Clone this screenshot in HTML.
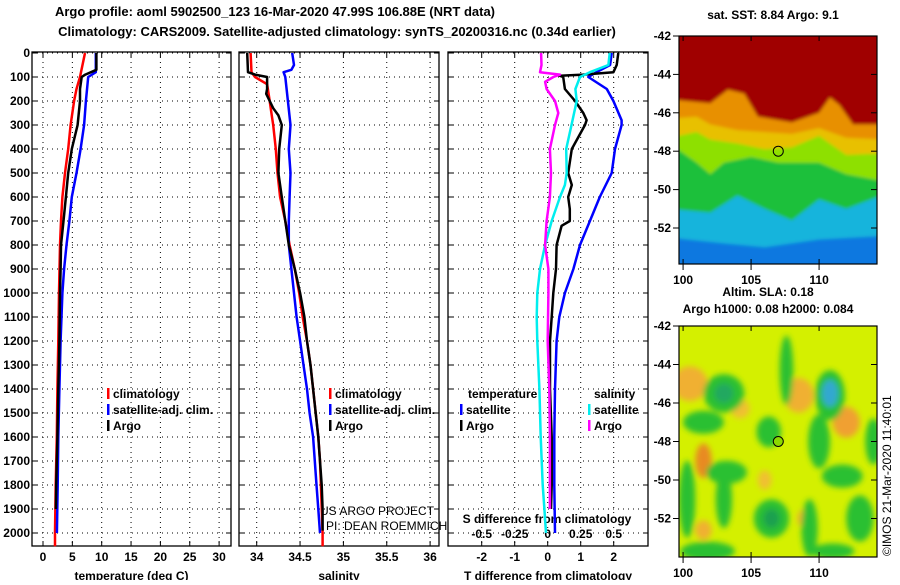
<!DOCTYPE html>
<html><head><meta charset="utf-8"><style>
body{margin:0;background:#fff}
svg text{font-family:"Liberation Sans",sans-serif;font-weight:bold;font-size:12px;fill:#000}
</style></head><body>
<svg id="s" width="900" height="580" xmlns="http://www.w3.org/2000/svg">
<defs>
<filter id="bl" x="-20%" y="-20%" width="140%" height="140%"><feGaussianBlur stdDeviation="3"/></filter>
<filter id="bl2" x="-20%" y="-20%" width="140%" height="140%"><feGaussianBlur stdDeviation="1.5"/></filter>
<clipPath id="c1"><rect x="679" y="36" width="198" height="228"/></clipPath>
<clipPath id="c2"><rect x="679" y="326" width="198" height="231"/></clipPath>
</defs>
<text x="275" y="16" text-anchor="middle" style="font-size:13px">Argo profile: aoml 5902500_123 16-Mar-2020 47.99S 106.88E (NRT data)</text>
<text x="337" y="36" text-anchor="middle" style="font-size:13px">Climatology: CARS2009. Satellite-adjusted climatology: synTS_20200316.nc (0.34d earlier)</text>
<text x="773" y="19" text-anchor="middle">sat. SST: 8.84 Argo: 9.1</text>
<text x="768" y="296" text-anchor="middle">Altim. SLA: 0.18</text>
<text x="768" y="313" text-anchor="middle">Argo h1000: 0.08 h2000: 0.084</text>
<text x="320" y="515" style="font-weight:normal;font-size:12px">US ARGO PROJECT</text>
<text x="326" y="530" style="font-weight:normal;font-size:12px">PI: DEAN ROEMMICH</text>
<text transform="translate(891,556) rotate(-90)" style="font-weight:normal;font-size:12px">©IMOS 21-Mar-2020 11:40:01</text>
<g id="g"></g>
</svg>
<script>
// ---- data ----
const tClimDepth=[0,100,150,200,300,400,500,600,700,800,1000,1200,1400,1600,1800,2000,2055];
const tClim=[7.15,6.3,5.7,5.3,4.7,4.3,3.75,3.3,3.07,2.9,2.72,2.6,2.45,2.35,2.16,2.05,2.05];
const tSatDepth=[0,80,100,200,300,400,500,600,700,800,900,1000,1200,1400,1600,1800,2000];
const tSat=[9.0,9.0,7.7,7.3,7.0,6.4,5.7,4.9,4.5,4.0,3.6,3.3,3.0,2.8,2.6,2.5,2.36];
const tArgoDepth=[0,70,90,100,150,200,300,400,500,600,700,800,900,1000,1200,1400,1600,1800,1900];
const tArgo=[9.1,9.1,7.2,6.6,6.3,6.3,5.9,4.9,4.3,3.9,3.5,3.07,3.0,2.9,2.8,2.6,2.45,2.25,2.2];
const sClimDepth=[0,80,100,130,200,250,300,400,500,600,700,800,900,1000,1100,1200,1300,1400,1500,1600,1700,1800,2000,2055];
const sClim=[33.93,33.94,33.98,34.12,34.15,34.17,34.19,34.22,34.24,34.27,34.33,34.38,34.44,34.49,34.53,34.58,34.62,34.65,34.68,34.71,34.73,34.74,34.76,34.76];
const sArgoDepth=[0,80,90,100,150,170,200,230,260,300,400,500,550,600,700,800,900,1000,1100,1200,1300,1400,1500,1600,1700,1800,1900,1990];
const sArgo=[33.89,33.9,33.98,34.12,34.12,34.11,34.15,34.19,34.25,34.29,34.26,34.25,34.27,34.29,34.33,34.37,34.44,34.5,34.55,34.58,34.62,34.65,34.68,34.71,34.73,34.75,34.76,34.76];
const sSatDepth=[0,50,70,80,100,200,300,400,500,600,700,800,900,1000,1100,1200,1300,1400,1500,1600,1700,1800,1900,2000];
const sSat=[34.41,34.43,34.4,34.31,34.33,34.36,34.39,34.37,34.39,34.38,34.37,34.37,34.4,34.43,34.46,34.5,34.54,34.58,34.61,34.65,34.67,34.69,34.71,34.73];
const dTSatDepth=[0,50,80,100,150,200,280,300,400,500,600,700,800,900,1000,1100,1200,1400,1600,1800,2000];
const dTSat=[1.94,1.89,1.48,1.23,1.79,1.99,2.24,2.24,2.04,1.94,1.58,1.28,0.98,0.78,0.52,0.35,0.27,0.22,0.2,0.2,0.22];
const dTArgoDepth=[0,50,80,90,95,100,150,200,250,280,300,350,400,500,550,600,650,700,720,800,900,1000,1100,1200,1400,1600,1800,1900];
const dTArgo=[2.14,2.09,1.99,1.08,0.37,0.47,0.52,0.83,1.08,1.18,1.13,0.93,0.73,0.62,0.73,0.62,0.67,0.67,0.42,0.27,0.25,0.17,0.12,0.07,0.07,0.12,0.12,0.1];
const dSSatDepth=[0,50,80,100,150,200,300,400,500,550,600,700,800,900,1000,1100,1200,1400,1600,1800,1900,2000];
const dSSat=[0.47,0.46,0.32,0.245,0.21,0.22,0.18,0.14,0.144,0.13,0.093,0.03,-0.02,-0.058,-0.079,-0.083,-0.079,-0.063,-0.053,-0.038,-0.025,-0.013];
const dSArgoDepth=[0,50,80,90,100,120,150,200,250,300,400,500,600,700,800,900,1000,1200,1400,1600,1800,1900];
const dSArgo=[-0.05,-0.047,-0.058,0.093,0.043,-0.02,-0.008,0.055,0.08,0.055,0.017,0.025,0.017,-0.008,-0.02,0.005,0.005,0,0.012,0.017,0.017,0.017];
const depthTicks=[0,100,200,300,400,500,600,700,800,900,1000,1100,1200,1300,1400,1500,1600,1700,1800,1900,2000];
const tTicks=[0,5,10,15,20,25,30];
const sTicks=[34,34.5,35,35.5,36];
const sTickLabels=["34","34.5","35","35.5","36"];
const dTTicks=[-2,-1,0,1,2];
const dSTicks=[-0.5,-0.25,0,0.25,0.5];
const dSTickLabels=["-0.5","-0.25","0","0.25","0.5"];
const latTicks=[-42,-44,-46,-48,-50,-52];
const lonTicks=[100,105,110];

// ---- scales ----
const yD=d=>53+d*0.24;
const P1={l:32,r:231},P2={l:239,r:439},P3={l:448,r:648},TOP=52,BOT=546;
const xT=t=>43+t*5.87;
const xS=s=>256.7+(s-34)*86.7;
const xDT=t=>547.7+t*33;
const xDS=s=>547.7+s*132;
const NS='http://www.w3.org/2000/svg';
const G=document.getElementById('g');
function el(tag,attrs,parent){const e=document.createElementNS(NS,tag);for(const k in attrs)e.setAttribute(k,attrs[k]);(parent||G).appendChild(e);return e;}
function txt(x,y,s,anchor,parent){const e=el('text',{x:x,y:y,'text-anchor':anchor||'start'},parent);e.textContent=s;return e;}

function panel(P,name,xticks,xlabels,xf,title){
  const g=el('g',{});
  
  
  depthTicks.forEach(d=>{el('line',{x1:P.l,x2:P.r,y1:yD(d),y2:yD(d),stroke:'#000','stroke-dasharray':'1,4','stroke-width':1},g);
    el('line',{x1:P.l,x2:P.l+5,y1:yD(d),y2:yD(d),stroke:'#000'},g);el('line',{x1:P.r-5,x2:P.r,y1:yD(d),y2:yD(d),stroke:'#000'},g);});
  xticks.forEach((v,i)=>{const x=xf(v);el('line',{x1:x,x2:x,y1:TOP,y2:BOT,stroke:'#000','stroke-dasharray':'1,4'},g);
    el('line',{x1:x,x2:x,y1:BOT-5,y2:BOT,stroke:'#000'},g);el('line',{x1:x,x2:x,y1:TOP,y2:TOP+5,stroke:'#000'},g);
    const t=txt(x,561,xlabels[i],'middle',g);});
  const tt=txt((P.l+P.r)/2,580,title,'middle',g);
  
  
  el('rect',{x:P.l,y:TOP,width:P.r-P.l,height:BOT-TOP,fill:'none',stroke:'#000','stroke-width':1.3},g);
  return g;
}
const g1=panel(P1,'temperature-panel',tTicks,tTicks.map(String),xT,'temperature (deg C)');
const g2=panel(P2,'salinity-panel',sTicks,sTickLabels,xS,'salinity');
const g3=panel(P3,'difference-panel',dTTicks,dTTicks.map(String),xDT,'T difference from climatology');
depthTicks.forEach(d=>{const t=txt(30,yD(d)+4,String(d),'end');
  
  });
dSTicks.forEach((v,i)=>{const t=txt(xDS(v),538,dSTickLabels[i],'middle');
  
  });
const sdt=txt(547,523,'S difference from climatology','middle');



function line(depths,vals,xf,color,name,w){
  const pts=depths.map((d,i)=>xf(vals[i]).toFixed(1)+','+yD(d).toFixed(1)).join(' ');
  const p=el('polyline',{points:pts,fill:'none',stroke:color,'stroke-width':w||2.5,'stroke-linejoin':'round'});
  
  
}
line(tClimDepth,tClim,xT,'#f00','temp-climatology-line');
line(tSatDepth,tSat,xT,'#00f','temp-satellite-line');
line(tArgoDepth,tArgo,xT,'#000','temp-argo-line');
line(sClimDepth,sClim,xS,'#f00','sal-climatology-line');
line(sSatDepth,sSat,xS,'#00f','sal-satellite-line');
line(sArgoDepth,sArgo,xS,'#000','sal-argo-line');
line(dTSatDepth,dTSat,xDT,'#00f','tdiff-satellite-line');
line(dTArgoDepth,dTArgo,xDT,'#000','tdiff-argo-line');
line(dSSatDepth,dSSat,xDS,'#0ee','sdiff-satellite-line');
line(dSArgoDepth,dSArgo,xDS,'#f0f','sdiff-argo-line');

function legend(x,y,color,label,name){
  const g=el('g',{});
  
  
  el('rect',{x:x,y:y-10,width:2.5,height:11,fill:color},g);
  txt(x+6,y,label,'start',g);
}
legend(107,398,'#f00','climatology','legend-climatology');
legend(107,414,'#00f','satellite-adj. clim.','legend-satellite-adj');
legend(107,430,'#000','Argo','legend-argo');
legend(329,398,'#f00','climatology','legend-sal-climatology');
legend(329,414,'#00f','satellite-adj. clim.','legend-sal-satellite');
legend(329,430,'#000','Argo','legend-sal-argo');
const lt=txt(468,398,'temperature');
const ls=txt(594,398,'salinity');
legend(460,414,'#00f','satellite','legend-tdiff-satellite');
legend(460,430,'#000','Argo','legend-tdiff-argo');
legend(588,414,'#0ee','satellite','legend-sdiff-satellite');
legend(588,430,'#f0f','Argo','legend-sdiff-argo');

// ---- maps ----
const mx=lon=>679+(lon-99.7)*13.6;
const my1=lat=>36+(-42-lat)*19.2;
const my2=lat=>326+(-42-lat)*19.25;
function mapFrame(top,h,my,name){
  const g=el('g',{});
  
  
  el('rect',{x:679,y:top,width:198,height:h,fill:'none',stroke:'#000','stroke-width':1.2},g);
  latTicks.forEach(l=>{const y=my(l);el('line',{x1:673,x2:679,y1:y,y2:y,stroke:'#000'},g);el('line',{x1:871,x2:877,y1:y,y2:y,stroke:'#000'},g);
    const t=txt(671,y+4,String(l),'end',g);});
  lonTicks.forEach(l=>{const x=mx(l);el('line',{x1:x,x2:x,y1:top,y2:top+5,stroke:'#000'},g);el('line',{x1:x,x2:x,y1:top+h-5,y2:top+h+6,stroke:'#000'},g);
    const t=txt(x,top+h+20,String(l),'middle',g);});
  const c=el('circle',{cx:mx(107),cy:my(-48),r:5,fill:'none',stroke:'#000','stroke-width':1},g);
  
  
}
const bands=[
 ['#0a78e0',[[99.7,-55],[114.3,-55]]],
 ['#14b4dc',[[99.7,-52.5],[103,-52.8],[106,-53],[110,-52.6],[114.3,-52.4]]],
 ['#1cc03a',[[99.7,-51],[102,-51.2],[104,-50.3],[106,-51],[108,-51.6],[110,-50.5],[112,-51],[114.3,-50.2]]],
 ['#8ee000',[[99.7,-47.6],[101,-48.6],[102,-49.2],[103,-48.6],[105,-48.3],[107,-48.6],[110,-48.6],[112,-49.2],[114.3,-49.6]]],
 ['#e8c000',[[99.7,-47.3],[101,-47],[102,-47.4],[104,-47.6],[106,-47.9],[108,-47.8],[110,-47.2],[112,-48.2],[114.3,-48.1]]],
 ['#e89000',[[99.7,-46.3],[101,-46.2],[102,-46.6],[104,-46.9],[106,-47],[108,-47.1],[110,-46.8],[112,-47.3],[114.3,-47.4]]],
 ['#a00000',[[99.7,-45.3],[102,-45.5],[103.3,-44.8],[104.5,-45],[105.5,-46.2],[108,-46.5],[110,-46],[110.8,-45.2],[111.5,-45.6],[112.5,-46.6],[114.3,-46.6]]]
];
const m1=el('g',{'clip-path':'url(#c1)'});


el('rect',{x:679,y:36,width:198,height:228,fill:'#0a60d0'},m1);
const m1b=el('g',{filter:'url(#bl2)'},m1);
bands.forEach(b=>{const pts=[[mx(99),my1(-41)]].concat(b[1].map(p=>[mx(p[0]===99.7?99:p[0]===114.3?115:p[0]),my1(p[1])])).concat([[mx(115),my1(-41)]]);
  el('polygon',{points:pts.map(p=>p.join(',')).join(' '),fill:b[0]},m1b);});
mapFrame(36,228,my1,'sst-map-frame');
const blobs=[
 ['#f0b030',100.5,-45,1.3,0.9],['#f0b030',108.5,-45.6,1.1,0.9],['#f0a030',112,-47,1,0.8],['#e88a20',101.5,-49,0.6,0.9],
 ['#f0b030',101.5,-52.6,0.6,0.5],['#f0b030',109,-52,0.6,0.5],['#f0c030',104.2,-46.3,0.7,0.5],['#f0c030',106,-50,0.5,0.5],
 ['#2cc030',103,-45.5,1.5,1],['#2cc030',107.6,-44.3,0.5,1.8],['#2cc030',110.8,-45.6,1.1,1.3],['#2cc030',106.3,-47.5,0.9,0.8],
 ['#2cc030',101.5,-47,1.5,0.6],['#2cc030',103.2,-49.6,1.5,0.6],['#2cc030',103,-51,0.6,1.5],['#2cc030',106.5,-52,1.3,1],
 ['#2cc030',110,-48,0.8,1.4],['#2cc030',111.7,-49.8,1.5,0.6],['#2cc030',114,-48,0.6,1.2],['#2cc030',100.3,-51,0.6,2],
 ['#2cc030',101.8,-53.7,2,0.5],['#2cc030',109.3,-52.5,0.6,1.5],['#2cc030',113,-52,1,1.2],['#2cc030',111,-53.7,1.6,0.4],
 ['#20a860',103,-45.5,0.7,0.5],['#30a8d0',110.8,-45.5,0.6,0.7],['#1aa050',106.5,-52,0.6,0.5]
];
const m2=el('g',{'clip-path':'url(#c2)'});


el('rect',{x:679,y:326,width:198,height:231,fill:'#d4f000'},m2);
const m2b=el('g',{filter:'url(#bl)'},m2);
blobs.forEach(b=>el('ellipse',{cx:mx(b[1]),cy:my2(b[2]),rx:b[3]*13.6,ry:b[4]*19.25,fill:b[0]},m2b));
el('circle',{cx:mx(107),cy:my2(-48),r:5,fill:'#8cd800'},m2);
mapFrame(326,231,my2,'sla-map-frame');
</script>
</body></html>
